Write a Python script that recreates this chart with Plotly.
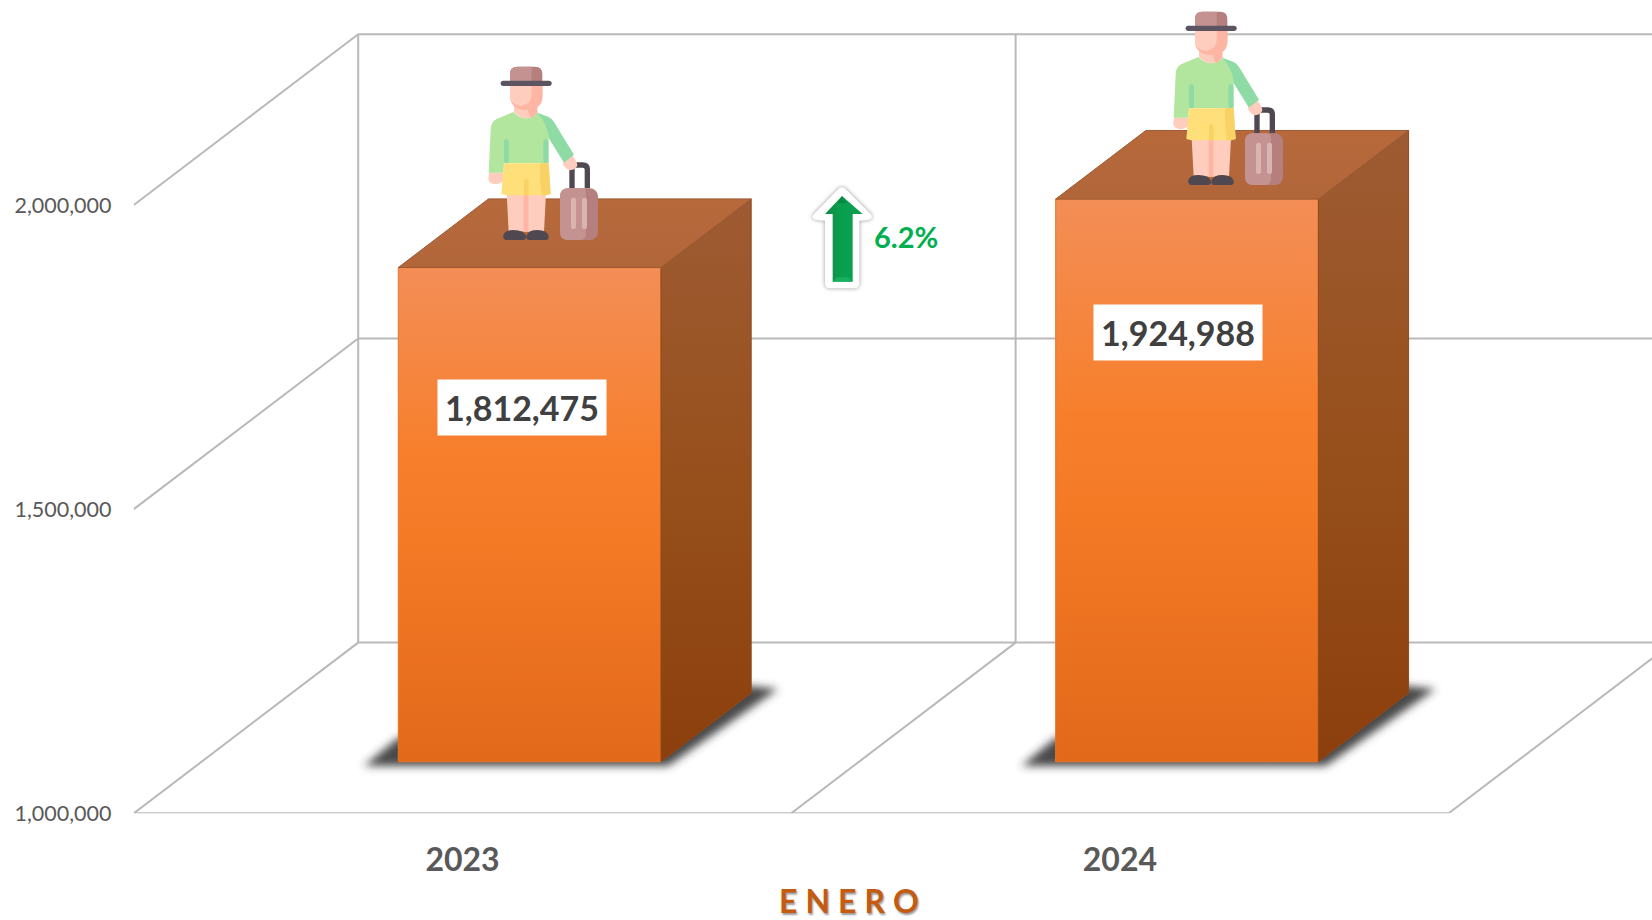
import base64
import plotly.graph_objects as go

# ---- data ----
categories = ["2023", "2024"]
visitors = [1812475, 1924988]
value_labels = ["1,812,475", "1,924,988"]
y_ticks = [1000000, 1500000, 2000000]
y_tick_labels = ["1,000,000", "1,500,000", "2,000,000"]
change_label = "6.2%"
axis_title = "E\u2005N\u2005E\u2005R\u2005O"

# ---- page geometry (pixels) ----
W, H = 1652, 920
X0_PX, Y0_PX = 133.8, 813.3      # front-left floor corner
CAT_PX = 657.4                   # one category along x
MILLION_PX = 608.3               # one million along y
XMAX = (W - X0_PX) / CAT_PX
YMAX = 1e6 + Y0_PX / MILLION_PX * 1e6
DEPTH_X = 224.4 / CAT_PX         # oblique shift of the full chart depth
DEPTH_Y = 170.7 / MILLION_PX * 1e6
BAR_W = 262.7 / CAT_PX
BAR_D0, BAR_D1 = 0.302, 0.704    # depth span of the boxes
BAR_LEFT = 196.7 / CAT_PX


def proj(x, v, d):
    return x + d * DEPTH_X, v + d * DEPTH_Y


def poly(points):
    xs = [p[0] for p in points] + [points[0][0]]
    ys = [p[1] for p in points] + [points[0][1]]
    return xs, ys


def uri(svg):
    return "data:image/svg+xml;base64," + base64.b64encode(svg.encode()).decode()


GRID = "#B9B9B9"
fig = go.Figure()


def grid(points):
    xs, ys = zip(*points)
    fig.add_trace(go.Scatter(x=xs, y=ys, mode="lines", line=dict(color=GRID, width=2),
                             hoverinfo="skip", showlegend=False, cliponaxis=True))


top_v = y_ticks[-1]
base_v = y_ticks[0]
for v in y_ticks:
    grid([proj(0, v, 0), proj(0, v, 1), proj(XMAX, v, 1)])
for i in range(1, len(categories) + 1):
    grid([proj(i, base_v, 0), proj(i, base_v, 1)])
grid([proj(0, base_v, 0), proj(len(categories), base_v, 0)])
for i in range(len(categories)):
    grid([proj(i, base_v, 1), proj(i, top_v, 1)])


def face(points, stops, edge):
    xs, ys = poly(points)
    fig.add_trace(go.Scatter(
        x=xs, y=ys, mode="lines", fill="toself", line=dict(color=edge, width=1),
        fillgradient=dict(type="vertical", colorscale=stops),
        hoverinfo="skip", showlegend=False))


for i, v in enumerate(visitors):
    xl = i + BAR_LEFT
    xr = xl + BAR_W
    # the box floor sits at BAR_D0 in depth; its height equals the value above the axis minimum
    fl_b = proj(xl, base_v, BAR_D0)
    fr_b = proj(xr, base_v, BAR_D0)
    fl_t = (fl_b[0], fl_b[1] + (v - base_v))
    fr_t = (fr_b[0], fr_b[1] + (v - base_v))
    rise = DEPTH_Y * (BAR_D1 - BAR_D0)
    run = DEPTH_X * (BAR_D1 - BAR_D0)
    br_b = (fr_b[0] + run, fr_b[1] + rise)
    br_t = (fr_t[0] + run, fr_t[1] + rise)
    bl_t = (fl_t[0] + run, fl_t[1] + rise)
    face([fl_b, fr_b, fr_t, fl_t],
         [[0, "#E2691A"], [0.45, "#F47A26"], [0.62, "#F77F2C"], [1, "#F38E57"]], "#E8762A")
    face([fr_b, br_b, br_t, fr_t],
         [[0, "#8C3F0C"], [0.5, "#97501C"], [1, "#9E5B33"]], "#8F4A1C")
    face([fl_t, fr_t, br_t, bl_t],
         [[0, "#B1663A"], [1, "#B7693B"]], "#9C5A34")

# ---- decoration (page pixels, converted to paper fractions) ----
shadow_svg = """<svg xmlns='http://www.w3.org/2000/svg' viewBox='0 0 460 120' width='460' height='120'>
<defs><filter id='b' x='-20%' y='-50%' width='140%' height='200%'><feGaussianBlur stdDeviation='4.5'/></filter></defs>
<polygon points='24,106 328,106 438,29 410,26 58,78' fill='#333' fill-opacity='0.9' filter='url(#b)'/></svg>"""

person_svg = """<svg xmlns='http://www.w3.org/2000/svg' viewBox='0 0 540 630' width='540' height='630'>
<path d='M366,415 V358 Q366,345 379,345 H398 Q412,345 412,358 V415' fill='none' stroke='#4F4850' stroke-width='16'/>
<rect x='330' y='415' width='114' height='155' rx='24' fill='#B57F7D'/>
<path d='M354,415 H395 Q408,415 408,430 V550 Q408,570 392,570 H354 Q330,570 330,546 V439 Q330,415 354,415Z' fill='#C49391'/>
<rect x='363' y='443' width='15' height='94' rx='7' fill='#D9B4B1'/>
<rect x='396' y='443' width='15' height='94' rx='7' fill='#D9B4B1'/>
<path d='M170,430 H288 L282,545 H176Z' fill='#FFCDBD'/>
<rect x='221' y='430' width='14' height='115' fill='#FFB5A3'/>
<path d='M170,570 Q158,570 160,556 Q164,540 190,540 Q222,540 228,558 Q230,570 218,570Z' fill='#4F4850'/>
<path d='M238,570 Q226,570 230,556 Q236,540 262,540 Q292,540 296,558 Q298,570 286,570Z' fill='#4F4850'/>
<path d='M118,368 H160 V392 Q150,403 132,402 Q115,400 115,384Z' fill='#FFCDBD'/>
<path d='M338,340 L366,316 Q382,335 382,346 Q378,360 360,361 Q346,358 338,340Z' fill='#FFCDBD'/>
<path d='M262,188 L296,201 Q306,206 312,216 L372,314 L342,338 L292,258Z' fill='#8FDBA6'/>
<path d='M190,186 L140,207 Q122,216 122,238 L116,368 H160 L162,340 H296 V258 Q290,218 262,188 Q228,222 190,186Z' fill='#B2E59E'/>
<rect x='162' y='268' width='15' height='72' rx='7' fill='#8FDBA6'/>
<rect x='280' y='268' width='15' height='72' rx='7' fill='#8FDBA6'/>
<path d='M162,340 H296 L302,432 L288,436 H168 L154,432Z' fill='#FFDF7A'/>
<path d='M270,340 H296 L302,432 L288,436 H276 Q268,390 270,340Z' fill='#F9D266'/>
<path d='M222,436 V392 Q228,380 236,392 V436Z' fill='#F9D266'/>
<path d='M192,160 V186 Q228,222 262,188 V160Z' fill='#FFCDBD'/>
<path d='M234,172 L262,160 V188 L245,205 Q232,190 234,172Z' fill='#FFB5A3'/>
<path d='M180,105 H278 V135 Q278,180 229,180 Q180,180 180,135Z' fill='#FFB5A3'/>
<path d='M180,105 H245 V135 Q245,160 215,168 Q180,165 180,135Z' fill='#FFCDBD'/>
<path d='M180,94 V72 Q180,50 202,50 H255 Q277,50 277,72 V94Z' fill='#B57F7D'/>
<path d='M180,94 V72 Q180,50 202,50 H245 V94Z' fill='#C49391'/>
<rect x='152' y='92' width='153' height='16' rx='8' fill='#5C5460'/>
</svg>"""

OUT = ("M186,52 Q194,52 200,60 L272,132 Q280,142 270,148 Q262,152 238,152 V340 Q238,355 222,355 H150 "
       "Q135,355 135,340 V152 Q112,152 104,148 Q92,142 102,132 L172,60 Q178,52 186,52Z")
arrow_svg = f"""<svg xmlns='http://www.w3.org/2000/svg' viewBox='0 0 540 390' width='540' height='390'>
<defs>
<filter id='s' x='-30%' y='-30%' width='160%' height='160%'><feGaussianBlur stdDeviation='7'/></filter>
<linearGradient id='g' x1='0' x2='1' y1='0' y2='0'><stop offset='0' stop-color='#128A45'/><stop offset='0.5' stop-color='#08A150'/><stop offset='1' stop-color='#0E9C50'/></linearGradient>
</defs>
<path d='{OUT}' fill='#777' filter='url(#s)' opacity='0.75'/>
<path d='{OUT}' fill='#FFFFFF'/>
<path d='M186,78 L248,132 H218 V335 H158 V132 H135Z' fill='url(#g)'/>
<path d='M186,78 L200,100 H172Z' fill='#0A7C3C' opacity='0.6'/>
<path d='M158,335 L170,322 H206 L218,335Z' fill='#1DB765' opacity='0.7'/>
</svg>"""


def image(svg, x, y, w, h, layer="above"):
    return dict(source=uri(svg), xref="paper", yref="paper", x=x / W, y=1 - y / H,
                sizex=w / W, sizey=h / H, xanchor="left", yanchor="top",
                sizing="stretch", layer=layer)


images = [
    image(shadow_svg, 340, 660, 460, 120, "below"),
    image(shadow_svg, 340 + CAT_PX, 660, 460, 120, "below"),
    image(person_svg, 450, 50, 180, 210),
    image(person_svg, 1135, -5, 180, 210),
    image(arrow_svg, 780, 170, 180, 130),
]

annotations = []
label_offsets = [(-7.6 / CAT_PX, -146000), (-8.6 / CAT_PX, -134000)]
for i, (v, t) in enumerate(zip(visitors, value_labels)):
    xc = i + BAR_LEFT + BAR_W / 2 + DEPTH_X * BAR_D0 + label_offsets[i][0]
    annotations.append(dict(x=xc, y=v + label_offsets[i][1], xref="x", yref="y", text=t,
                            xanchor="center", yanchor="middle",
                            showarrow=False, bgcolor="#FFFFFF", width=166, height=53,
                            font=dict(family="Lato", size=34, color="#404040", weight="bold")))
annotations.append(dict(x=906 / W, y=1 - 236 / H, xref="paper", yref="paper", text=change_label,
                        xanchor="center", yanchor="middle",
                        showarrow=False, font=dict(family="Lato", size=29, color="#00B050", weight="bold")))
annotations.append(dict(x=849 / W, y=1 - 900 / H, xref="paper", yref="paper", text=axis_title,
                        xanchor="center", yanchor="middle",
                        showarrow=False,
                        font=dict(family="Lato", size=32, color="#C55A11", weight="bold",
                                  shadow="1px 2px 2px #9a9a9a")))

fig.update_layout(
    width=W, height=H, autosize=False,
    margin=dict(l=0, r=0, t=0, b=0),
    paper_bgcolor="#FFFFFF", plot_bgcolor="#FFFFFF",
    showlegend=False, images=images, annotations=annotations,
    xaxis=dict(domain=[X0_PX / W, 1], range=[0, XMAX], showgrid=False, zeroline=False, showline=False,
               automargin=False,
               tickmode="array", tickvals=[i + 0.5 for i in range(len(categories))], ticktext=categories,
               ticks="outside", ticklen=18, tickcolor="rgba(0,0,0,0)",
               tickfont=dict(family="Lato", size=32, color="#595959", weight="bold")),
    yaxis=dict(domain=[(H - Y0_PX) / H, 1], range=[1e6, YMAX], showgrid=False, zeroline=False, showline=False,
               automargin=False,
               tickmode="array", tickvals=y_ticks, ticktext=y_tick_labels,
               ticks="outside", ticklen=17, tickcolor="rgba(0,0,0,0)",
               tickfont=dict(family="Lato", size=21.5, color="#595959")),
)

fig.write_html("out.html", config={"displayModeBar": False},
               post_script="document.body.style.margin='0';document.body.style.overflow='hidden';")
